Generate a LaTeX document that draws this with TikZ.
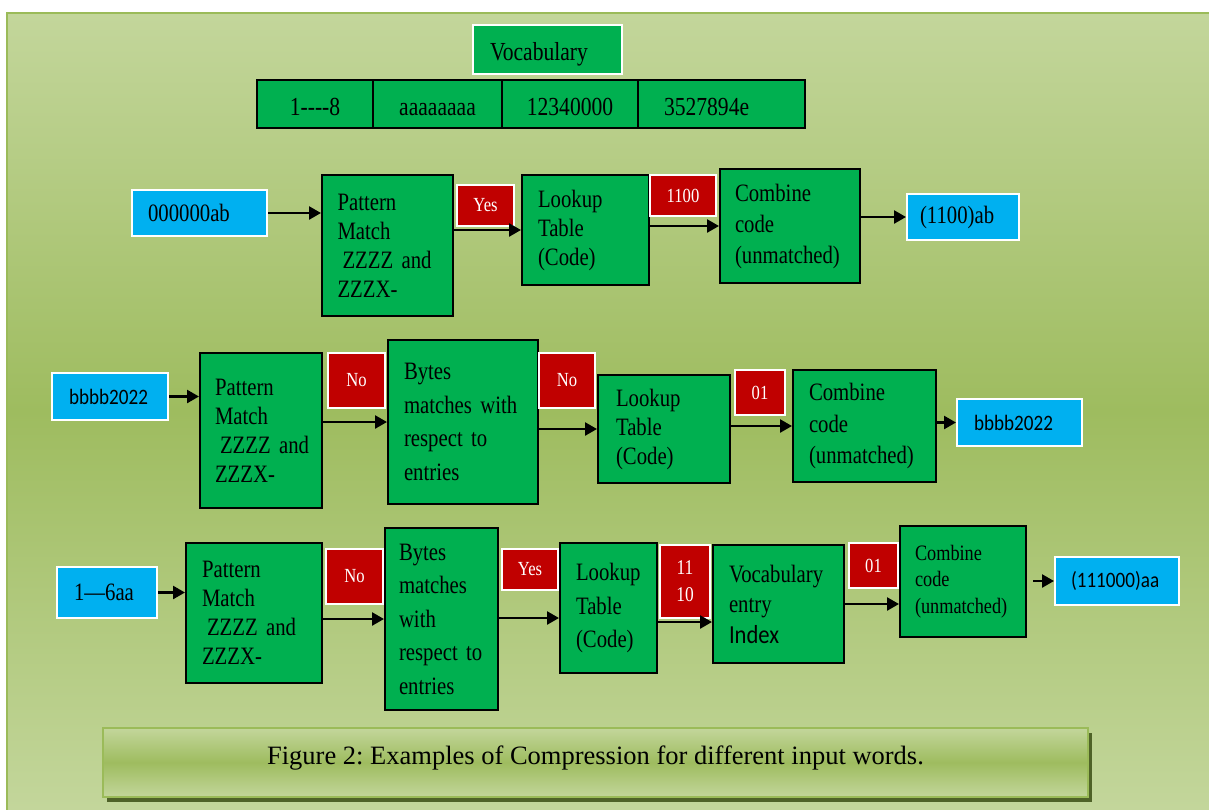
\documentclass[tikz,border=0pt]{standalone}
\usepackage{fontspec}
\setmainfont{Liberation Serif}
\newfontfamily\condserif{Liberation Serif}[FakeStretch=0.83]
\newfontfamily\condsans{Carlito}[FakeStretch=0.87]
\newcommand\mycserif[2]{\condserif\fontsize{#1}{#2}\selectfont}
\usetikzlibrary{arrows.meta,shadows}
\definecolor{boxgreen}{HTML}{00B050}
\definecolor{incyan}{HTML}{00B0F0}
\definecolor{lblred}{HTML}{C00000}
\definecolor{bglight}{HTML}{C3D69B}
\definecolor{bgdark}{HTML}{9EBC5F}
\definecolor{bgborder}{HTML}{9BBB59}
\definecolor{capshadow}{HTML}{4F6228}
\frenchspacing
\begin{document}
\begin{tikzpicture}[x=1pt,y=-1pt,
  gbox/.style={draw=black, line width=2pt, fill=boxgreen, inner ysep=0pt, align=left,
    font=\mycserif{25}{29}},
  cell/.style={draw=black, line width=2pt, fill=boxgreen, inner sep=0pt, minimum height=48pt,
    text height=24pt, text depth=2pt, font=\mycserif{26}{29}},
  inbox/.style={draw=white, line width=2pt, fill=incyan, inner ysep=0pt, align=left,
    font=\mycserif{25}{29}},
  sansin/.style={font=\condsans\fontsize{22}{26}\selectfont},
  lbl/.style={draw=white, line width=2pt, fill=lblred, text=white, inner sep=0pt, align=center,
    font=\mycserif{20}{27}},
  arr/.style={line width=2.5pt, -{Triangle[length=12pt,width=13pt]}},
]
\useasboundingbox (0,0) rectangle (1209,809);
% background frame
\fill[white] (0,0) rectangle (1209,809);
\shade[top color=bglight, bottom color=bglight, middle color=bgdark] (7,13) rectangle (1209,809);
\draw[bgborder, line width=2.5pt] (1215,13) -- (7,13) -- (7,815);

% vocabulary
\node[gbox, draw=white, text width=115pt, inner xsep=17pt, minimum height=49pt,
  text height=24pt, text depth=3pt, font=\mycserif{26}{29}] (voc) at (547.5,49.5) {Vocabulary};
\node[cell, minimum width=116pt] (t1) at (315,104) {1-\kern0pt-\kern0pt-\kern0pt-\kern0pt8};
\node[cell, minimum width=129pt] (t2) at (437.5,104) {aaaaaaaa};
\node[cell, minimum width=136pt] (t3) at (570,104) {12340000};
\node[cell, minimum width=167pt, text width=115pt, inner xsep=26pt, align=left] (t4) at (721.5,104) {3527894e};

% row 1
\node[inbox, text width=103pt, inner xsep=16pt, minimum height=46pt] (in1) at (199.5,213) {000000ab};
\node[gbox, text width=100pt, inner xsep=15.5pt, minimum height=141pt] (pm1) at (387.5,245.5) {Pattern\\Match\\\mbox{\hspace*{5pt}ZZZZ and}\\ZZZX-};
\node[lbl, minimum width=57pt, minimum height=41pt] (yes1) at (485.5,205.5) {Yes};
\node[gbox, text width=95pt, inner xsep=16pt, minimum height=110pt] (lt1) at (585.5,230) {Lookup\\Table\\(Code)};
\node[lbl, minimum width=66pt, minimum height=41pt] (c1100) at (683,195.5) {1100};
\node[gbox, text width=110pt, inner xsep=15pt, minimum height=114pt, font=\mycserif{25}{31}] (cb1) at (790,226) {Combine\\code\\(unmatched)};
\node[inbox, text width=86pt, inner xsep=13pt, minimum height=46pt] (out1) at (963,217) {(1100)ab};

\draw[arr] (in1.east) -- (pm1.west |- in1.east);
\draw[arr] (pm1.east |- lt1.west) -- (lt1.west);
\draw[arr] (lt1.east |- cb1.west) -- (cb1.west);
\draw[arr] (cb1.east |- out1.west) -- (out1.west);

% row 2
\node[inbox, sansin, text width=82pt, inner xsep=17pt, minimum height=47pt] (in2) at (110,396.5) {bbbb2022};
\node[gbox, text width=92pt, inner xsep=15pt, minimum height=155pt] (pm2) at (261,430.5) {Pattern\\Match\\\mbox{\hspace*{5pt}ZZZZ and}\\ZZZX-};
\node[lbl, minimum width=57pt, minimum height=55pt] (no2a) at (356.5,380.5) {No};
\node[gbox, text width=118pt, inner xsep=16pt, minimum height=164pt, font=\mycserif{25}{33.5}] (by2) at (463,422) {Bytes\\matches with\\respect to\\entries};
\node[lbl, minimum width=56pt, minimum height=55pt] (no2b) at (567,380.5) {No};
\node[gbox, text width=96pt, inner xsep=18pt, minimum height=108pt] (lt2) at (664,429) {Lookup\\Table\\(Code)};
\node[lbl, minimum width=50pt, minimum height=45pt] (c01a) at (760,392.5) {01};
\node[gbox, text width=111pt, inner xsep=16pt, minimum height=112pt, font=\mycserif{25}{31.5}] (cb2) at (864.5,426) {Combine\\code\\(unmatched)};
\node[inbox, sansin, text width=91pt, inner xsep=17pt, minimum height=47pt] (out2) at (1019.5,422.5) {bbbb2022};

\draw[arr] (in2.east) -- (pm2.west |- in2.east);
\draw[arr] (pm2.east |- by2.west) -- (by2.west);
\draw[arr] (by2.east |- lt2.west) -- (lt2.west);
\draw[arr] (lt2.east |- cb2.west) -- (cb2.west);
\draw[arr] (cb2.east |- out2.west) -- (out2.west);

% row 3
\node[inbox, text width=66pt, inner xsep=17pt, minimum height=51pt] (in3) at (107,592.5) {1—6aa};
\node[gbox, text width=104pt, inner xsep=16pt, minimum height=140pt] (pm3) at (254,613) {Pattern\\Match\\\mbox{\hspace*{5pt}ZZZZ and}\\ZZZX-};
\node[lbl, minimum width=57pt, minimum height=55pt] (no3) at (354.5,576.5) {No};
\node[gbox, text width=85pt, inner xsep=14pt, minimum height=182pt, font=\mycserif{25}{33.5}] (by3) at (441.5,619) {Bytes\\matches\\with\\respect to\\entries};
\node[lbl, minimum width=56pt, minimum height=41pt] (yes3) at (530,569.5) {Yes};
\node[gbox, text width=65pt, inner xsep=16pt, minimum height=130pt, font=\mycserif{25}{33.5}] (lt3) at (608.5,608) {Lookup\\Table\\(Code)};
\node[lbl, minimum width=50pt, minimum height=73pt, font=\mycserif{21}{27}] (c1110) at (685,581.5) {11\\10};
\node[gbox, text width=99pt, inner xsep=16pt, minimum height=118pt, font=\mycserif{25}{30.5}] (ve3) at (778.5,604) {Vocabulary\\entry\\{\condsans\fontsize{26}{30.5}\selectfont Index}};
\node[lbl, minimum width=49pt, minimum height=45pt] (c01b) at (873.5,565.5) {01};
\node[gbox, text width=96pt, inner xsep=15pt, minimum height=111pt, font=\mycserif{22}{26.5}] (cb3) at (963,581.5) {Combine\\code\\(unmatched)};
\node[inbox, sansin, text width=92pt, inner xsep=16pt, minimum height=48pt] (out3) at (1117,581) {(111000)aa};

\coordinate (a3) at ([yshift=-10pt]lt3.west);
\coordinate (b3) at ([yshift=-18pt]ve3.west);
\coordinate (c3) at ([xshift=6pt]cb3.east);
\draw[arr] (in3.east) -- (pm3.west |- in3.east);
\draw[arr] (pm3.east |- by3.west) -- (by3.west);
\draw[arr] (by3.east |- a3) -- (a3);
\draw[arr] (lt3.east |- b3) -- (b3);
\draw[arr] (ve3.east) -- (cb3.west |- ve3.east);
\draw[arr] (c3 |- out3.west) -- (out3.west);

% caption
\node[draw=bgborder, line width=1.5pt, top color=bglight, bottom color=bglight, middle color=bgdark,
  minimum width=985pt, minimum height=69pt, inner sep=0pt, text height=20pt, text depth=17pt,
  font=\fontsize{26.5}{30}\selectfont,
  drop shadow={fill=capshadow, opacity=1, shadow xshift=4pt, shadow yshift=-5pt}]
  (cap) at (595.5,762.5) {Figure 2: Examples of Compression for different input words.};
\end{tikzpicture}
\end{document}
